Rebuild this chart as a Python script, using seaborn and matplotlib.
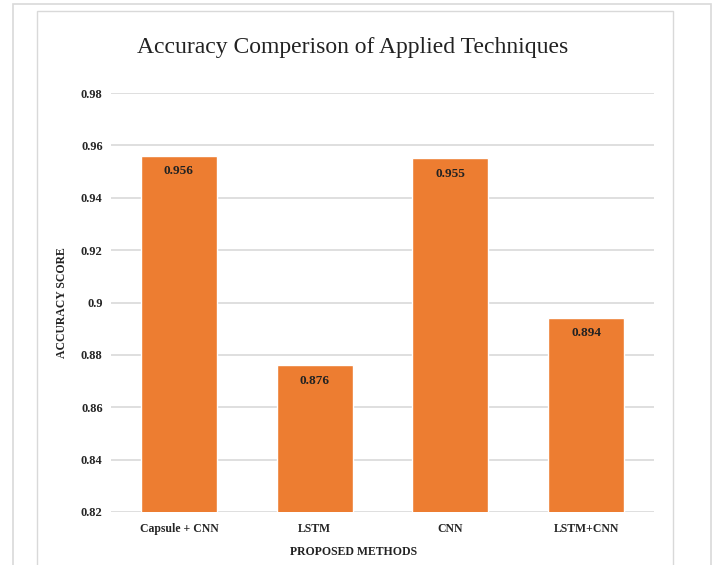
import matplotlib
matplotlib.use("Agg")
import matplotlib.pyplot as plt
import seaborn as sns
import pandas as pd
from matplotlib.patches import Rectangle

methods = ["Capsule + CNN", "LSTM", "CNN", "LSTM+CNN"]
accuracy = [0.956, 0.876, 0.955, 0.894]
yticks = [0.82, 0.84, 0.86, 0.88, 0.9, 0.92, 0.94, 0.96, 0.98]
ytick_labels = ["0.82", "0.84", "0.86", "0.88", "0.9", "0.92", "0.94", "0.96", "0.98"]

df = pd.DataFrame({"method": methods, "accuracy": accuracy})

sns.set_style("white")
plt.rcParams["font.family"] = ["Liberation Serif", "DejaVu Serif"]

W, H = 717, 565
fig = plt.figure(figsize=(W / 100, H / 100), dpi=100)

# outer and inner frames
fig.patches.append(Rectangle((13 / W, -0.05), (711 - 13) / W, 1.05 - 4 / H,
                             transform=fig.transFigure, fill=False,
                             edgecolor="#d9d9d9", linewidth=1.2))
fig.patches.append(Rectangle((37 / W, -0.05), (673 - 37) / W, 1.05 - 11 / H,
                             transform=fig.transFigure, fill=False,
                             edgecolor="#d9d9d9", linewidth=1.0))

ax = fig.add_axes([111 / W, 1 - 512 / H, (654 - 111) / W, (512 - 93) / H])
sns.barplot(data=df, x="method", y="accuracy", color="#ED7D31", width=0.56,
            saturation=1, ax=ax)

ax.set_ylim(0.82, 0.98)
ax.set_xlim(-0.5, 3.5)
ax.set_yticks(yticks)
ax.set_yticklabels(ytick_labels, fontsize=9, fontweight="bold")
ax.set_xticks(range(len(methods)))
ax.set_xticklabels(methods, fontsize=8.5, fontweight="bold")
ax.tick_params(axis="both", length=0)
ax.tick_params(axis="y", pad=6)
ax.tick_params(axis="x", pad=8)
ax.yaxis.grid(True, color="#d9d9d9", linewidth=1.2)
ax.set_axisbelow(True)
for s in ax.spines.values():
    s.set_visible(False)
ax.set_xlabel("")
ax.set_ylabel("")

for i, v in enumerate(accuracy):
    ax.annotate(f"{v:.3f}", (i, v), xytext=(0, -11), textcoords="offset points",
                ha="center", va="center", fontsize=9.5, fontweight="bold",
                color="#222222")

fig.text(353 / W, 1 - 47 / H, "Accuracy Comperison of Applied Techniques",
         ha="center", va="center", fontsize=17, color="#222222")
fig.text(62 / W, 1 - 303 / H, "ACCURACY SCORE", rotation=90, ha="center",
         va="center", fontsize=8.5, fontweight="bold", color="#222222")
fig.text(354 / W, 1 - 552 / H, "PROPOSED METHODS", ha="center", va="center",
         fontsize=8.5, fontweight="bold", color="#222222")

fig.savefig("out.png", dpi=100)
